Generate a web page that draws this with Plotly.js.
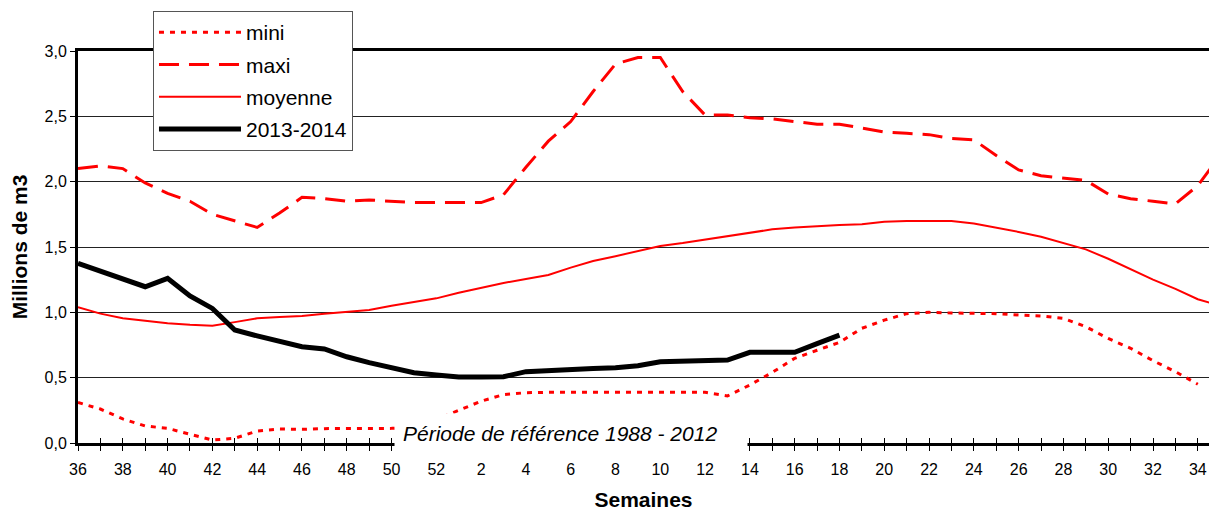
<!DOCTYPE html>
<html>
<head>
<meta charset="utf-8">
<script src="https://cdn.plot.ly/plotly-3.0.1.min.js"></script>
<style>html,body{margin:0;padding:0;background:#fff;}#chart{width:1209px;height:511px;}</style>
</head>
<body>
<div id="chart"></div>
<script>
// Weeks (season from week 36 to week 35 of the next year)
const weeks = ['36','37','38','39','40','41','42','43','44','45','46','47','48','49','50','51','52',
  '1','2','3','4','5','6','7','8','9','10','11','12','13','14','15','16','17','18','19','20',
  '21','22','23','24','25','26','27','28','29','30','31','32','33','34','35'];

// Reference period 1988 - 2012 (millions de m3)
const mini = [0.31,0.26,0.184,0.13,0.112,0.069,0.023,0.036,0.092,0.107,0.105,0.11,0.112,0.112,0.112,0.12,0.18,
  0.25,0.32,0.37,0.385,0.388,0.388,0.388,0.388,0.388,0.388,0.388,0.388,0.36,0.444,0.54,0.648,0.71,0.77,0.878,0.94,
  0.99,1.0,0.995,0.995,0.99,0.98,0.972,0.954,0.89,0.80,0.725,0.63,0.546,0.45,null];
const maxi = [2.10,2.12,2.10,1.99,1.91,1.85,1.75,1.70,1.65,1.76,1.88,1.87,1.85,1.86,1.85,1.84,1.84,
  1.84,1.84,1.90,2.11,2.31,2.46,2.69,2.90,2.95,2.95,2.69,2.51,2.51,2.49,2.48,2.46,2.44,2.44,2.41,2.38,
  2.37,2.36,2.33,2.32,2.20,2.09,2.045,2.03,2.01,1.905,1.87,1.85,1.83,1.97,2.2];
const moyenne = [1.04,0.99,0.955,0.935,0.917,0.905,0.898,0.925,0.954,0.965,0.972,0.99,1.005,1.018,1.05,1.08,1.107,
  1.15,1.19,1.225,1.255,1.286,1.342,1.393,1.43,1.47,1.508,1.53,1.555,1.58,1.61,1.635,1.65,1.66,1.668,1.674,1.694,
  1.699,1.699,1.699,1.68,1.65,1.615,1.579,1.53,1.482,1.41,1.329,1.25,1.18,1.10,1.05];
// Current season 2013-2014
const y2013 = [1.375,1.315,1.255,1.196,1.26,1.125,1.03,0.865,0.82,0.775,0.737,0.72,0.66,0.615,0.576,0.538,0.52,
  0.505,0.505,0.507,0.546,0.556,0.564,0.57,0.576,0.592,0.622,0.627,0.632,0.635,0.694,0.694,0.694,0.76,0.826];

const xIdx = weeks.map((w, i) => i);
const tickLabels = weeks.map((w, i) => (i % 2 === 0 ? w : ''));
const tickIdx = xIdx.slice(0, 51);

const font = 'Arial, "Liberation Sans", sans-serif';

const traces = [
  {x: xIdx, y: mini, name: 'mini', mode: 'lines', legendgroup: 'a',
   line: {color: '#FF0000', width: 3, dash: '5px,6px'}},
  {x: xIdx, y: maxi, name: 'maxi', mode: 'lines', legendgroup: 'b',
   line: {color: '#FF0000', width: 3, dash: '20px,10px'}},
  {x: xIdx, y: moyenne, name: 'moyenne', mode: 'lines', legendgroup: 'c',
   line: {color: '#FF0000', width: 2}},
  {x: xIdx.slice(0, y2013.length), y: y2013, name: '2013-2014', mode: 'lines', legendgroup: 'd',
   line: {color: '#000000', width: 5}},
  {x: [], y: [], xaxis: 'x2', yaxis: 'y', showlegend: false, hoverinfo: 'skip'}
];

const layout = {
  width: 1209, height: 511,
  margin: {l: 78, r: 0, t: 51, b: 68},
  paper_bgcolor: '#fff', plot_bgcolor: '#fff',
  separators: ', ',
  font: {family: font, color: '#000', size: 16},
  showlegend: true,
  legend: {
    x: 0.0663, y: 1.102, xanchor: 'left', yanchor: 'top',
    bgcolor: '#fff', bordercolor: '#555', borderwidth: 1,
    font: {family: font, size: 21, color: '#000'},
    itemwidth: 82, traceorder: 'grouped', tracegroupgap: 2
  },
  xaxis: {
    range: [0, 50.5], showgrid: false, zeroline: false,
    showline: true, linecolor: '#000', linewidth: 3, mirror: true,
    tickmode: 'array', tickvals: tickIdx, ticktext: tickLabels.slice(0, 51),
    ticks: 'outside', ticklen: 5, tickwidth: 1, tickcolor: '#000',
    ticklabelstandoff: 5,
    tickfont: {family: font, size: 16, color: '#000'},
    title: {text: '<b>Semaines</b>', font: {family: font, size: 21, color: '#000'}, standoff: 18}
  },
  xaxis2: {
    overlaying: 'x', anchor: 'y', side: 'bottom', matches: 'x',
    range: [0, 50.5], showgrid: false, zeroline: false, showline: false,
    tickmode: 'array', tickvals: tickIdx, showticklabels: false,
    ticks: 'inside', ticklen: 5, tickwidth: 1, tickcolor: '#000'
  },
  yaxis: {
    range: [0, 3], dtick: 0.5, tick0: 0, tickformat: '.1f',
    showgrid: true, gridcolor: '#222', gridwidth: 1, zeroline: false,
    showline: true, linecolor: '#000', linewidth: 3,
    ticks: 'outside', ticklen: 5, tickwidth: 1, tickcolor: '#000',
    tickfont: {family: font, size: 16, color: '#000'},
    title: {text: '<b>Millions de m3</b>', font: {family: font, size: 21, color: '#000'}, standoff: 12}
  },
  annotations: [
    {xref: 'paper', yref: 'paper', x: 0.2794, y: 0.0255, xanchor: 'left', yanchor: 'middle',
     text: ' ', showarrow: false, bgcolor: '#fff', width: 352, height: 38, borderpad: 0},
    {xref: 'paper', yref: 'paper', x: 0.2855, y: 0.0255, xanchor: 'left', yanchor: 'middle',
     text: '<i>Période de référence 1988 - 2012</i>', showarrow: false,
     font: {family: font, size: 21, color: '#000'}}
  ]
};

Plotly.newPlot('chart', traces, layout, {displayModeBar: false, staticPlot: true});
</script>
</body>
</html>
